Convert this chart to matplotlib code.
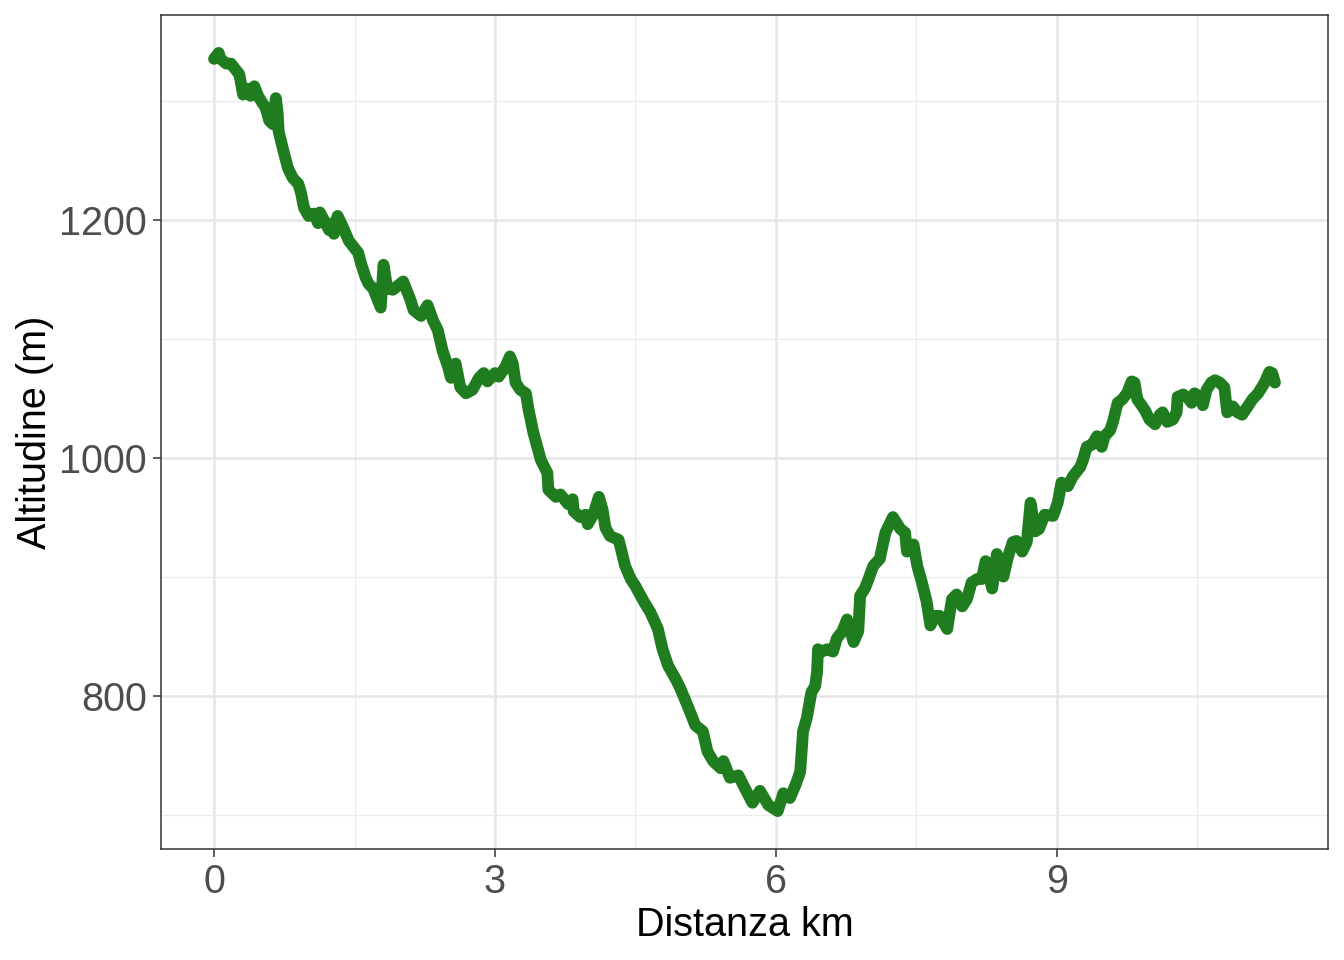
import matplotlib
matplotlib.use("Agg")
import matplotlib.pyplot as plt
from matplotlib.ticker import MultipleLocator

# profilo altimetrico
distanza = [0.00, 0.05, 0.07, 0.13, 0.18, 0.23, 0.27, 0.31, 0.36, 0.39, 0.43, 0.47, 0.50, 0.55, 0.59,
            0.63, 0.66, 0.68, 0.69, 0.74, 0.77, 0.79, 0.84, 0.90, 0.93, 0.96, 1.01, 1.07, 1.11, 1.13,
            1.19, 1.23, 1.27, 1.28, 1.32, 1.38, 1.44, 1.49, 1.54, 1.57, 1.62, 1.65, 1.70, 1.73, 1.78,
            1.81, 1.85, 1.91, 2.02, 2.10, 2.13, 2.21, 2.28, 2.34, 2.39, 2.44, 2.50, 2.53, 2.58, 2.63,
            2.69, 2.76, 2.83, 2.88, 2.92, 3.00, 3.04, 3.11, 3.16, 3.19, 3.22, 3.27, 3.33, 3.36, 3.41,
            3.49, 3.56, 3.57, 3.65, 3.70, 3.78, 3.83, 3.84, 3.91, 3.97, 3.99, 4.05, 4.11, 4.15, 4.18,
            4.23, 4.32, 4.34, 4.39, 4.45, 4.50, 4.59, 4.66, 4.74, 4.79, 4.85, 4.93, 4.98, 5.07, 5.14,
            5.22, 5.27, 5.33, 5.41, 5.44, 5.51, 5.60, 5.67, 5.75, 5.83, 5.92, 6.02, 6.08, 6.15, 6.21,
            6.26, 6.29, 6.33, 6.38, 6.42, 6.44, 6.45, 6.49, 6.55, 6.61, 6.65, 6.71, 6.76, 6.79, 6.83,
            6.88, 6.90, 6.95, 6.99, 7.04, 7.11, 7.17, 7.25, 7.33, 7.38, 7.40, 7.47, 7.51, 7.56, 7.61,
            7.65, 7.70, 7.75, 7.83, 7.88, 7.93, 7.99, 8.04, 8.09, 8.15, 8.20, 8.24, 8.31, 8.36, 8.43,
            8.48, 8.53, 8.57, 8.63, 8.68, 8.72, 8.77, 8.81, 8.87, 8.96, 9.01, 9.05, 9.12, 9.17, 9.25,
            9.28, 9.32, 9.38, 9.43, 9.48, 9.51, 9.57, 9.60, 9.65, 9.70, 9.75, 9.80, 9.83, 9.86, 9.94,
            9.99, 10.05, 10.10, 10.13, 10.18, 10.24, 10.28, 10.29, 10.35, 10.40, 10.44, 10.47, 10.53,
            10.56, 10.60, 10.65, 10.69, 10.74, 10.79, 10.82, 10.88, 10.93, 10.98, 11.04, 11.09, 11.15,
            11.22, 11.27, 11.30, 11.33]
altitudine = [1335, 1340, 1335, 1331, 1331, 1326, 1322, 1305, 1310, 1304, 1312, 1304, 1300, 1294, 1283,
              1280, 1302, 1289, 1274, 1258, 1249, 1243, 1235, 1230, 1222, 1210, 1203, 1205, 1197, 1206,
              1197, 1191, 1197, 1188, 1203, 1193, 1182, 1177, 1172, 1163, 1151, 1146, 1142, 1136, 1126,
              1162, 1142, 1141, 1148, 1132, 1124, 1119, 1128, 1115, 1107, 1090, 1076, 1067, 1079, 1059,
              1054, 1057, 1067, 1071, 1064, 1071, 1068, 1076, 1085, 1079, 1063, 1057, 1054, 1040, 1021,
              998, 987, 973, 967, 969, 961, 965, 955, 950, 952, 944, 952, 967, 956, 941,
              934, 931, 925, 909, 898, 892, 879, 870, 856, 839, 825, 814, 806, 789, 775,
              770, 753, 745, 739, 745, 731, 733, 722, 710, 720, 708, 703, 718, 714, 725,
              736, 770, 781, 803, 808, 820, 839, 837, 839, 837, 848, 854, 864, 856, 845,
              854, 884, 890, 898, 909, 915, 937, 950, 940, 937, 921, 927, 909, 895, 879,
              859, 867, 867, 856, 881, 885, 875, 881, 895, 898, 898, 913, 890, 919, 900,
              917, 929, 930, 921, 929, 962, 938, 940, 952, 951, 962, 979, 976, 984, 992,
              998, 1009, 1011, 1018, 1009, 1018, 1023, 1030, 1046, 1049, 1054, 1064, 1063, 1049, 1040,
              1032, 1028, 1036, 1038, 1030, 1032, 1038, 1051, 1053, 1050, 1046, 1054, 1051,
              1044, 1057, 1063, 1065, 1063, 1059, 1038, 1043, 1038, 1036, 1043, 1049, 1054,
              1063, 1072, 1071, 1063]

x_ticks = [0, 3, 6, 9]
y_ticks = [800, 1000, 1200]

plt.rcParams['font.family'] = ['Liberation Sans', 'DejaVu Sans']

fig = plt.figure(figsize=(13.44, 9.6), dpi=100)
ax = fig.add_axes([161 / 1344, 1 - 849 / 960, (1328 - 161) / 1344, (849 - 15) / 960])

ax.plot(distanza, altitudine, color='#1F7D1F', lw=8.5,
        solid_capstyle='round', solid_joinstyle='round', zorder=3)

ax.margins(x=0.05, y=0.05)
ax.set_xticks(x_ticks)
ax.set_yticks(y_ticks)
ax.xaxis.set_minor_locator(MultipleLocator(1.5))
ax.yaxis.set_minor_locator(MultipleLocator(100))

ax.grid(which='major', color='#E6E6E6', lw=1.8, zorder=0)
ax.grid(which='minor', color='#EBEBEB', lw=0.9, zorder=0)
ax.set_axisbelow(True)

for s in ax.spines.values():
    s.set_color('#333333')
    s.set_linewidth(1.1)

ax.tick_params(which='major', length=6, width=1.1, color='#333333',
               labelsize=28.5, labelcolor='#4D4D4D', pad=4)
ax.tick_params(which='minor', length=0)

ax.set_xlabel('Distanza km', fontsize=28.5, color='black', labelpad=4)
ax.set_ylabel('Altitudine (m)', fontsize=28.5, color='black', labelpad=4)

fig.savefig('out.png', dpi=100)
